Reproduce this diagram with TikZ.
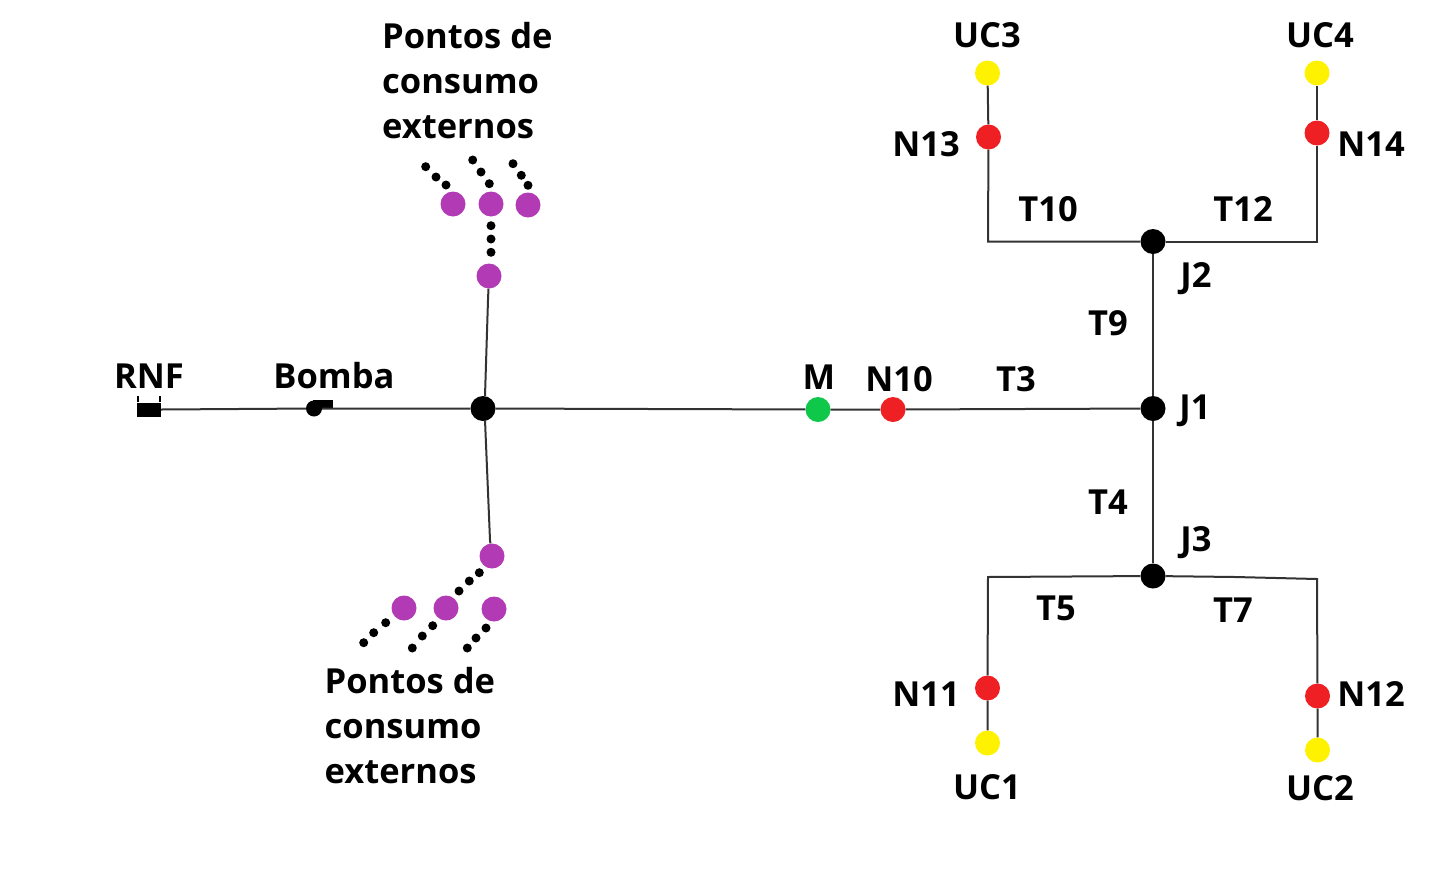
\documentclass[tikz,border=0pt]{standalone}
\usepackage{fontspec}
\setmainfont{Open Sans}
\definecolor{pipegray}{HTML}{333333}
\definecolor{consumo}{HTML}{B23AB5}
\definecolor{nored}{HTML}{EE2024}
\definecolor{ucyellow}{HTML}{FFF200}
\definecolor{mgreen}{HTML}{0FC84A}
\tikzset{
    pipe/.style={draw=pipegray, line width=2pt},
    junction/.style={circle, fill=black, inner sep=0pt, minimum size=25pt},
    purple/.style={circle, fill=consumo, inner sep=0pt, minimum size=25pt},
    rednode/.style={circle, fill=nored, inner sep=0pt, minimum size=25pt},
    yellownode/.style={circle, fill=ucyellow, inner sep=0pt, minimum size=25pt},
    greennode/.style={circle, fill=mgreen, inner sep=0pt, minimum size=25pt},
    dotnode/.style={circle, fill=black, inner sep=0pt, minimum size=9pt},
    lbl/.style={font=\fontsize{34.5}{45}\selectfont\bfseries, anchor=base, inner sep=0pt},
    lblblock/.style={lbl, anchor=north west, align=left}
}
\begin{document}
\begin{tikzpicture}[x=1pt, y=-1pt]
    \useasboundingbox (0, 0) rectangle (1444, 876);
    % junctions
    \node[junction] (hub) at (483, 408.5) {};
    \node[junction] (J1) at (1153, 408.5) {};
    \node[junction] (J2) at (1153, 241.5) {};
    \node[junction] (J3) at (1153, 576) {};
    % suction side
    \node[fill=black, inner sep=0pt, minimum width=24pt, minimum height=14pt] (rnf) at (149, 409.5) {};
    \draw[line width=2pt] (rnf.north west) ++(1, 0) -- ++(0, -6);
    \draw[line width=2pt] (rnf.north east) ++(-1, 0) -- ++(0, -6);
    \node[circle, fill=black, inner sep=0pt, minimum size=16pt] (bomba) at (314, 408.5) {};
    \node[fill=black, inner sep=0pt, minimum width=20pt, minimum height=9pt] (bombatop) at (323, 404.5) {};
    % meter and red nodes
    \node[greennode] (M) at (818, 409.5) {};
    \node[rednode] (N10) at (893, 409.5) {};
    \node[rednode] (N11) at (987.5, 688) {};
    \node[rednode] (N12) at (1317.5, 696) {};
    \node[rednode] (N13) at (988.5, 137) {};
    \node[rednode] (N14) at (1317, 133) {};
    \node[yellownode] (UC1) at (987.5, 743) {};
    \node[yellownode] (UC2) at (1317.5, 750) {};
    \node[yellownode] (UC3) at (987.5, 73) {};
    \node[yellownode] (UC4) at (1317, 73) {};
    % external consumption points
    \foreach \nm/\px/\py in {a/453/204, b/491/204, c/528/205, d/489/276, e/492/556, f/404/608, g/446/608, h/494/609}
        \node[purple] (P\nm) at (\px, \py) {};
    \foreach \nm/\px/\py in {1/425.7/166.7, 2/436/177, 3/446/185, 4/472.7/160, 5/481/172, 6/489.3/183.7,
        7/513/163.7, 8/521.3/175.3, 9/528/185.3, 10/491/225.7, 11/491/239, 12/491/252.3,
        13/479.3/572.7, 14/469.3/581, 15/459/591, 16/385.7/622.7, 17/373.7/632.7, 18/363.7/642.7,
        19/432.7/625.7, 20/422.3/636, 21/412.3/648, 22/486/628, 23/476/638, 24/467.3/648}
        \node[dotnode] (dot\nm) at (\px, \py) {};
    % corners
    \coordinate (c10) at (988, 241.5);
    \coordinate (c12) at (1317, 241.5);
    \coordinate (c5) at (988, 577);
    \coordinate (c7a) at (1235, 577);
    \coordinate (c7b) at (1317, 579);
    \coordinate (hubup) at (485, 396);
    \coordinate (hubdown) at (485, 420);
    \coordinate (cup) at (488, 300);
    \coordinate (cdown) at (490, 540);
    % pipes
    \draw[pipe] (rnf.east) -- (bomba);
    \draw[pipe] (bomba) -- (hub) -- (M) -- (N10) -- (J1);
    \draw[pipe] (hubup) -- (cup) -- (Pd);
    \draw[pipe] (hubdown) -- (cdown) -- (Pe);
    \draw[pipe] (J3) -- (J1) -- (J2);
    \draw[pipe] (J2) -- (c10) -- (N13) -- (UC3);
    \draw[pipe] (J2) -- (c12) -- (N14) -- (UC4);
    \draw[pipe] (J3) -- (c5) -- (N11) -- (UC1);
    \draw[pipe] (J3) -- (c7a) -- (c7b) -- (N12) -- (UC2);
    % labels
    \foreach \nm/\px/\py in {RNF/149/388.5, Bomba/334/388.5, M/819/389, N10/899/391, T3/1016/391,
        UC3/987/47.5, UC4/1320/47.5, N13/926/156, N14/1371/156, T10/1048/221, T12/1243/221,
        J2/1196/287.5, T9/1108/335, J1/1195/419, T4/1108/514, J3/1196/551, T5/1056/620, T7/1233/622.5,
        N11/926/706, N12/1371/706, UC1/987/799, UC2/1320/800.5}
        \node[lbl] (lbl\nm) at (\px, \py) {\nm};
    \node[lblblock] (extup) at (382, 22) {Pontos de\\consumo\\externos};
    \node[lblblock] (extdown) at (324.5, 667) {Pontos de\\consumo\\externos};
\end{tikzpicture}
\end{document}
